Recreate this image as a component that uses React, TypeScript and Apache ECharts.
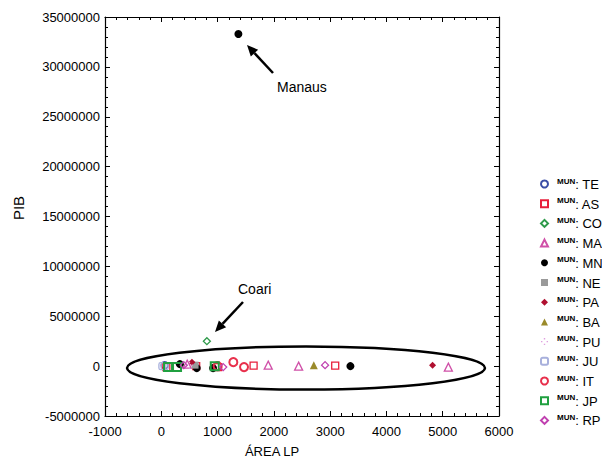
import React, { useEffect, useRef } from "react";
import * as echarts from "echarts";

const seriesNames = ["TE", "AS", "CO", "MA", "MN", "NE", "PA", "BA", "PU", "JU", "IT", "JP", "RP"];

// [ÁREA LP, PIB]
const TE: number[][] = [[60, 100000]];
const AS: number[][] = [[90, -100000], [620, 0], [1010, -100000], [1640, 50000], [3090, 50000]];
const CO: number[][] = [[810, 2500000]];
const MA: number[][] = [[460, 200000], [1900, 100000], [2440, 0], [5100, -100000]];
const MN: number[][] = [[1370, 33300000], [330, 200000], [630, -200000], [920, -200000], [3360, 0]];
const NE: number[][] = [[600, 100000]];
const PA: number[][] = [[545, 400000], [4820, 100000]];
const BA: number[][] = [[2710, 100000]];
const PU: number[][] = [[500, 100000]];
const JU: number[][] = [[20, 0], [60, 0]];
const IT: number[][] = [[1280, 400000], [1470, -100000], [1000, 0]];
const JP: number[][] = [[120, -100000], [280, -100000], [950, 0]];
const RP: number[][] = [[1100, -100000], [2910, 100000], [400, 100000]];

const seriesData = [TE, AS, CO, MA, MN, NE, PA, BA, PU, JU, IT, JP, RP];

const xTicks = { min: -1000, max: 6000, interval: 1000 };
const yTicks = { min: -5000000, max: 35000000, interval: 5000000 };

const styles: Record<string, any> = {
  TE: { symbol: "circle", color: "#3b4ea6", open: true, size: 7 },
  AS: { symbol: "rect", color: "#e8203c", open: true, size: 7 },
  CO: { symbol: "diamond", color: "#2e9a4a", open: true, size: 7 },
  MA: { symbol: "triangle", color: "#d050a8", open: true, size: 8 },
  MN: { symbol: "circle", color: "#000000", open: false, size: 8 },
  NE: { symbol: "rect", color: "#9a9a9a", open: false, size: 7 },
  PA: { symbol: "diamond", color: "#b01030", open: false, size: 7 },
  BA: { symbol: "triangle", color: "#9a8a2a", open: false, size: 8 },
  PU: {
    symbol: "path://M4,0h2v2h-2zM4,8h2v2h-2zM0,4h2v2h-2zM8,4h2v2h-2z",
    color: "#e0a0e0",
    open: false,
    size: 7,
  },
  JU: { symbol: "roundRect", color: "#a8b0dc", open: true, size: 7 },
  IT: { symbol: "circle", color: "#e8304c", open: true, size: 8, bw: 2 },
  JP: { symbol: "rect", color: "#20a040", open: true, size: 8, bw: 2 },
  RP: { symbol: "diamond", color: "#c040b0", open: true, size: 7 },
};

function arrow(tail: number[], tip: number[]) {
  const dx = tip[0] - tail[0];
  const dy = tip[1] - tail[1];
  const len = Math.sqrt(dx * dx + dy * dy);
  const ux = dx / len;
  const uy = dy / len;
  const hl = 11;
  const hw = 5;
  const bx = tip[0] - hl * ux;
  const by = tip[1] - hl * uy;
  const px = -uy;
  const py = ux;
  return [
    {
      type: "line",
      shape: { x1: tail[0], y1: tail[1], x2: bx, y2: by },
      style: { stroke: "#000", lineWidth: 2.5 },
    },
    {
      type: "polygon",
      shape: {
        points: [
          [tip[0], tip[1]],
          [bx + hw * px, by + hw * py],
          [bx - hw * px, by - hw * py],
        ],
      },
      style: { fill: "#000" },
    },
  ];
}

export default function App() {
  const ref = useRef<HTMLDivElement>(null);
  useEffect(() => {
    if (!ref.current) return;
    const chart = echarts.init(ref.current, null, { renderer: "svg" });
    const font = "Liberation Sans, Arial, sans-serif";
    const axisCommon = {
      axisLine: { show: true, onZero: false, lineStyle: { color: "#000", width: 1.2 } },
      axisTick: { show: true, inside: true, length: 5, lineStyle: { color: "#000" } },
      minorTick: { show: true, splitNumber: 5, length: 3, lineStyle: { color: "#000" } },
      splitLine: { show: false },
      minorSplitLine: { show: false },
    };
    const series = seriesNames.map((name, i) => {
      const s = styles[name];
      return {
        name,
        type: "scatter",
        data: seriesData[i],
        symbol: s.symbol,
        symbolSize: s.size,
        itemStyle: s.open
          ? { color: "rgba(255,255,255,0)", borderColor: s.color, borderWidth: s.bw || 1.3, opacity: 1 }
          : { color: s.color, borderWidth: 0, opacity: 1 },
        emphasis: { disabled: true },
      };
    });
    chart.setOption({
      animation: false,
      textStyle: { fontFamily: font },
      grid: { left: 105, right: 103, top: 17, bottom: 49 },
      xAxis: [
        {
          type: "value",
          ...xTicks,
          ...axisCommon,
          axisLabel: {
            color: "#000",
            fontSize: 13,
            margin: 9,
            fontFamily: font,
            formatter: (v: number) => String(v),
          },
        },
        {
          type: "value",
          position: "top",
          ...xTicks,
          ...axisCommon,
          axisLabel: { show: false },
        },
      ],
      yAxis: [
        {
          type: "value",
          ...yTicks,
          ...axisCommon,
          axisLabel: {
            color: "#000",
            fontSize: 13,
            margin: 5,
            fontFamily: font,
            formatter: (v: number) => String(v),
          },
        },
        {
          type: "value",
          position: "right",
          ...yTicks,
          ...axisCommon,
          axisLabel: { show: false },
        },
      ],
      legend: {
        orient: "vertical",
        left: 535,
        top: 172,
        itemWidth: 7,
        itemHeight: 7,
        itemGap: 5.7,
        data: seriesNames,
        formatter: (n: string) => `{s|MUN}{t|: ${n}}`,
        textStyle: {
          fontFamily: font,
          color: "#000",
          rich: {
            s: { fontSize: 8, fontWeight: "bold", verticalAlign: "top", lineHeight: 14, padding: [0, 0, 6, 4] },
            t: { fontSize: 13, lineHeight: 14, verticalAlign: "bottom" },
          },
        },
      },
      graphic: [
        {
          type: "ellipse",
          shape: { cx: 306, cy: 368, rx: 179, ry: 21.5 },
          style: { fill: "none", stroke: "#000", lineWidth: 2.5 },
          z: 10,
        },
        ...arrow([273, 73], [247, 45]),
        ...arrow([243, 302], [215, 332]),
        {
          type: "text",
          x: 277,
          y: 87,
          style: { text: "Manaus", fontSize: 14, fontFamily: font, fill: "#000", verticalAlign: "middle" },
        },
        {
          type: "text",
          x: 238,
          y: 289,
          style: { text: "Coari", fontSize: 14, fontFamily: font, fill: "#000", verticalAlign: "middle" },
        },
        {
          type: "text",
          x: 18,
          y: 208,
          rotation: Math.PI / 2,
          style: {
            text: "PIB",
            fontSize: 15,
            fontFamily: font,
            fill: "#000",
            align: "center",
            verticalAlign: "middle",
          },
        },
        {
          type: "text",
          x: 272,
          y: 451,
          style: {
            text: "ÁREA LP",
            fontSize: 13,
            fontFamily: font,
            fill: "#000",
            align: "center",
            verticalAlign: "middle",
          },
        },
      ],
      series,
    });
    return () => chart.dispose();
  }, []);
  return (
    <div
      ref={ref}
      style={{ position: "absolute", left: 0, top: 0, width: 602, height: 465, background: "#fff" }}
    />
  );
}
